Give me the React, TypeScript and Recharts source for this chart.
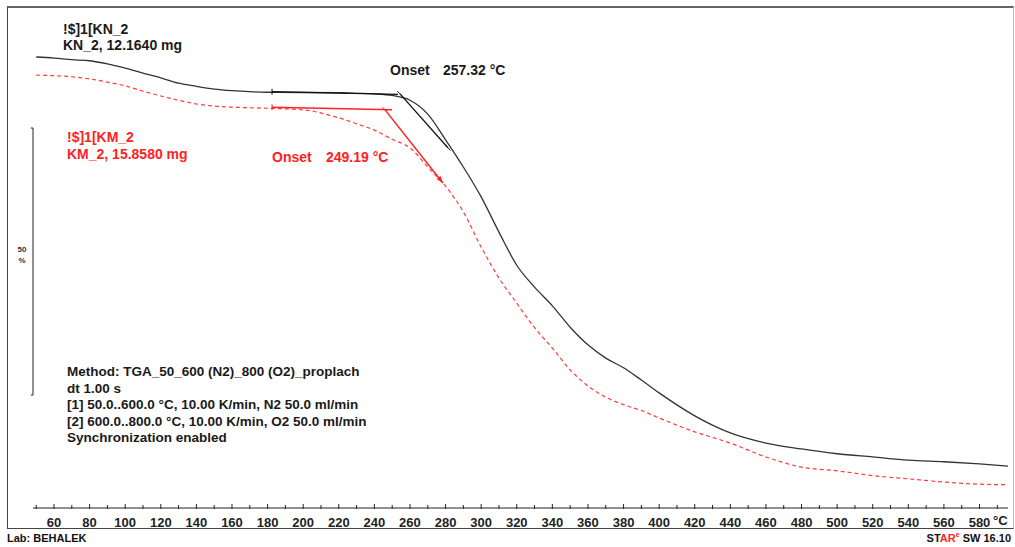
import React from "react"
import { LineChart, Line, XAxis, YAxis, ReferenceLine, ReferenceDot } from "recharts"

// temperatures (°C) where the curves were read
const temps = [50, 60, 70, 80, 90, 100, 110, 120, 130, 140, 150, 160, 170, 180, 200, 220, 230, 240, 250, 260, 270, 280, 290, 300, 310, 320, 330, 340, 350, 360, 370, 380, 390, 400, 420, 440, 460, 480, 500, 520, 540, 560, 580, 596]

// KN_2 (black, solid), relative mass %
const kn2 = [100.0, 99.8, 99.5, 99.3, 98.7, 97.9, 97.0, 96.1, 95.1, 94.5, 94.0, 93.7, 93.5, 93.4, 93.35, 93.3, 93.2, 93.1, 92.8, 91.9, 89.3, 84.5, 79.4, 73.8, 67.2, 61.0, 56.9, 53.4, 49.4, 46.1, 43.6, 41.8, 39.5, 37.1, 32.8, 29.6, 27.7, 26.6, 25.7, 25.1, 24.5, 24.2, 23.8, 23.4]

// KM_2 (red, dashed)
const km2 = [96.6, 96.5, 96.3, 95.9, 95.3, 94.6, 93.6, 92.7, 91.9, 91.2, 90.8, 90.6, 90.5, 90.4, 90.1, 88.6, 87.5, 86.3, 84.6, 83.0, 79.4, 75.8, 71.0, 64.4, 58.6, 53.9, 49.3, 45.5, 41.4, 38.4, 36.3, 34.9, 33.8, 32.4, 29.8, 27.7, 25.1, 23.2, 22.5, 21.6, 21.0, 20.4, 20.0, 19.9]

// onset construction lines [start, end]
const knBaseT = [182.5, 253.3]
const knBaseV = [93.5, 93.0]
const knTanT = [254.4, 281.3]
const knTanV = [93.1, 83.0]
const kmBaseT = [182.5, 249.9]
const kmBaseV = [90.6, 90.1]
const kmTanT = [246.0, 278.5]
const kmTanV = [90.1, 76.4]

const xTicks = [50, 60, 70, 80, 90, 100, 110, 120, 130, 140, 150, 160, 170, 180, 190, 200, 210, 220, 230, 240, 250, 260, 270, 280, 290, 300, 310, 320, 330, 340, 350, 360, 370, 380, 390, 400, 410, 420, 430, 440, 450, 460, 470, 480, 490, 500, 510, 520, 530, 540, 550, 560, 570, 580, 590]

const methodLines = [
  "Method: TGA_50_600 (N2)_800 (O2)_proplach",
  "dt 1.00 s",
  "[1] 50.0..600.0 °C, 10.00 K/min, N2 50.0 ml/min",
  "[2] 600.0..800.0 °C, 10.00 K/min, O2 50.0 ml/min",
  "Synchronization enabled",
]

const FONT = "'Liberation Sans', Arial, Helvetica, sans-serif"
const RED = "#f22"
const INK = "#1a1a1a"

const toRows = (t: number[], v: number[]) => t.map((x, i) => ({ t: x, v: v[i] }))

const knData = toRows(temps, kn2)
const kmData = toRows(temps, km2)

function XTick(props: any) {
  const { x, y, payload } = props
  const val = payload.value
  const labelled = val >= 60 && val <= 580 && val % 20 === 0
  return (
    <g>
      <line x1={x} x2={x} y1={y - (labelled ? 4 : 3)} y2={y + 1} stroke="#222" strokeWidth={1} />
      {labelled && (
        <text x={x} y={y + 14} textAnchor="middle" dominantBaseline="central" fontSize={13} fontWeight="bold" fontFamily={FONT} fill="#222">
          {val}
        </text>
      )}
    </g>
  )
}

function ArrowHead(props: any) {
  const { cx, cy } = props
  if (cx == null || cy == null) return null
  return <polygon points={`${cx},${cy} ${cx - 2.3},${cy - 7.1} ${cx - 6.3},${cy - 3.9}`} fill={RED} />
}

const txt = (left: number, top: number, color = INK, size = 14): React.CSSProperties => ({
  position: "absolute",
  left,
  top,
  color,
  fontFamily: FONT,
  fontSize: size,
  fontWeight: "bold",
  lineHeight: "16px",
  whiteSpace: "nowrap",
})

export default function App() {
  return (
    <div style={{ position: "absolute", left: 0, top: 0, width: 1015, height: 547, background: "#fff", overflow: "hidden" }}>
      <div style={{ position: "absolute", left: 7, top: 6, width: 1005, height: 520, borderTop: "2px solid #666", borderLeft: "1px solid #444", borderBottom: "1px solid #444", borderRight: "1px solid #bbb" }} />
      <LineChart width={1015} height={547} margin={{ top: 6, right: 7, left: 33, bottom: 0 }} style={{ position: "absolute", left: 0, top: 0 }}>
        <XAxis
          type="number"
          dataKey="t"
          domain={[48.2, 596]}
          ticks={xTicks}
          interval={0}
          allowDataOverflow
          tick={<XTick />}
          tickLine={false}
          tickSize={0}
          tickMargin={0}
          axisLine={{ stroke: "#222", strokeWidth: 1 }}
          height={39}
        />
        <YAxis type="number" hide domain={[15.54, 109.55]} allowDataOverflow />

        {/* 50 % scale bar */}
        <ReferenceLine segment={[{ x: 48.2, y: 86.7 }, { x: 48.2, y: 36.7 }]} stroke="#222" strokeWidth={1} ifOverflow="visible" />
        <ReferenceLine segment={[{ x: 47.0, y: 86.7 }, { x: 48.2, y: 86.7 }]} stroke="#222" strokeWidth={1} ifOverflow="visible" />
        <ReferenceLine segment={[{ x: 47.0, y: 36.7 }, { x: 48.2, y: 36.7 }]} stroke="#222" strokeWidth={1} ifOverflow="visible" />

        <Line data={kmData} dataKey="v" type="monotone" stroke="#ff3b3b" strokeWidth={1.2} strokeDasharray="4 3" dot={false} isAnimationActive={false} />
        <Line data={knData} dataKey="v" type="monotone" stroke="#333" strokeWidth={1.3} dot={false} isAnimationActive={false} />

        <Line data={toRows(knBaseT, knBaseV)} dataKey="v" type="linear" stroke="#111" strokeWidth={1.3} dot={false} isAnimationActive={false} />
        <Line data={toRows(knTanT, knTanV)} dataKey="v" type="linear" stroke="#111" strokeWidth={1.3} dot={false} isAnimationActive={false} />
        <Line data={toRows(kmBaseT, kmBaseV)} dataKey="v" type="linear" stroke={RED} strokeWidth={1.5} dot={false} isAnimationActive={false} />
        <Line data={toRows(kmTanT, kmTanV)} dataKey="v" type="linear" stroke={RED} strokeWidth={1.5} dot={false} isAnimationActive={false} />

        {/* tick marks on construction lines */}
        <ReferenceLine segment={[{ x: knBaseT[0], y: knBaseV[0] + 0.55 }, { x: knBaseT[0], y: knBaseV[0] - 0.55 }]} stroke="#111" />
        <ReferenceLine segment={[{ x: kmBaseT[0], y: kmBaseV[0] + 0.55 }, { x: kmBaseT[0], y: kmBaseV[0] - 0.55 }]} stroke={RED} />
        <ReferenceLine segment={[{ x: knTanT[0] - 1.5, y: knTanV[0] + 0.5 }, { x: knTanT[0] + 1.5, y: knTanV[0] - 0.5 }]} stroke="#111" />
        <ReferenceLine segment={[{ x: knTanT[1] - 1.5, y: knTanV[1] + 0.5 }, { x: knTanT[1] + 1.5, y: knTanV[1] - 0.5 }]} stroke="#111" />
        <ReferenceLine segment={[{ x: kmTanT[0] - 1.5, y: kmTanV[0] + 0.5 }, { x: kmTanT[0] + 1.5, y: kmTanV[0] - 0.5 }]} stroke={RED} />
        <ReferenceDot x={kmTanT[1]} y={kmTanV[1]} r={3} shape={<ArrowHead />} />
      </LineChart>

      <div style={txt(63, 21)}>!$]1[KN_2</div>
      <div style={txt(63, 37)}>KN_2, 12.1640 mg</div>
      <div style={txt(67, 129, RED)}>!$]1[KM_2</div>
      <div style={txt(67, 146, RED)}>KM_2, 15.8580 mg</div>

      <div style={txt(390, 62)}>Onset</div>
      <div style={txt(443, 62)}>257.32 °C</div>
      <div style={txt(272, 149, RED)}>Onset</div>
      <div style={txt(326, 149, RED)}>249.19 °C</div>

      <div style={{ ...txt(67, 364, INK, 13.5), lineHeight: "16.5px" }}>
        {methodLines.map((l) => (
          <div key={l}>{l}</div>
        ))}
      </div>

      <div style={{ position: "absolute", left: 14, top: 244, width: 16, textAlign: "center", fontFamily: FONT, fontSize: 8, fontWeight: "bold", lineHeight: "11px", color: "#333" }}>
        50
        <br />%
      </div>

      <div style={{ ...txt(993, 513, "#222", 13) }}>°C</div>

      <div style={{ position: "absolute", left: 7, top: 532, fontFamily: FONT, fontSize: 11, fontWeight: "bold", lineHeight: "12px", color: "#111" }}>Lab: BEHALEK</div>
      <div style={{ position: "absolute", right: 4, top: 532, fontFamily: FONT, fontSize: 11, fontWeight: "bold", lineHeight: "12px", color: "#111", whiteSpace: "nowrap" }}>
        ST<span style={{ color: RED }}>AR</span>
        <sup style={{ color: RED, fontSize: 7, lineHeight: 0 }}>e</sup> SW 16.10
      </div>
    </div>
  )
}
